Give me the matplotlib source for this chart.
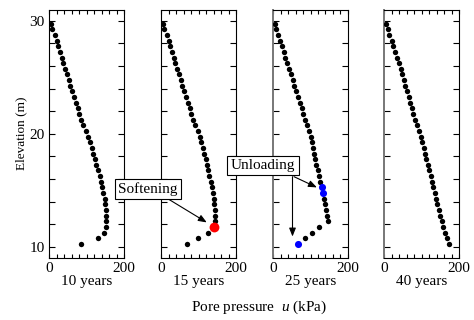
import numpy as np
import matplotlib.pyplot as plt
from matplotlib.ticker import MultipleLocator, FixedLocator, FixedFormatter

plt.rcParams['font.family'] = ['Liberation Serif', 'DejaVu Serif']
plt.rcParams['mathtext.fontset'] = 'custom'
plt.rcParams['mathtext.it'] = 'Liberation Serif:italic'

# elevation of the nodes (m)
elevation = [29.75, 29.25, 28.75, 28.25, 27.75, 27.25, 26.75, 26.25, 25.75, 25.25,
             24.75, 24.25, 23.75, 23.25, 22.75, 22.25, 21.75, 21.25, 20.75, 20.25,
             19.75, 19.25, 18.75, 18.25, 17.75, 17.25, 16.75, 16.25, 15.75, 15.25,
             14.75, 14.25, 13.75, 13.25, 12.75, 12.25, 11.75, 11.25, 10.75, 10.25]

# pore pressure (kPa) at each time
u_10 = [4, 9, 15, 20, 24, 29, 34, 38, 43, 48, 53, 57, 62, 67, 72, 77, 81, 86, 91, 98,
        104, 108, 114, 118, 123, 126, 131, 135, 139, 142, 145, 148, 149, 151, 152, 153, 152, 147, 131, 84]
u_15 = [4, 9, 15, 20, 24, 29, 34, 38, 43, 48, 53, 57, 62, 67, 72, 77, 81, 86, 91, 98,
        103, 107, 111, 115, 119, 122, 126, 129, 132, 135, 138, 140, 142, 143, 144, 144, 141, 124, 98, 70]
u_25 = [4, 9, 14, 19, 24, 29, 33, 38, 43, 47, 52, 57, 62, 66, 71, 76, 81, 86, 91, 97,
        101, 104, 107, 110, 113, 116, 119, 122, 126, 130, 134, 137, 140, 142, 144, 147, 123, 105, 84, 66]
u_40 = [4, 10, 14, 20, 25, 29, 35, 39, 44, 49, 52, 57, 60, 66, 69, 74, 78, 83, 88, 93,
        98, 102, 106, 109, 113, 116, 120, 124, 127, 131, 135, 139, 142, 146, 150, 154, 158, 163, 167, 173]

panel_labels = ['10 years', '15 years', '25 years', '40 years']
series = [u_10, u_15, u_25, u_40]

# highlighted nodes
softening_u = [141]
softening_z = [11.75]
unloading_u = [130, 134, 66]
unloading_z = [15.25, 14.75, 10.25]

W, H = 474, 320
fig = plt.figure(figsize=(W / 100, H / 100), dpi=100)

lefts_px = [49, 161, 273, 384]
axes = []
for i, (left, u, label) in enumerate(zip(lefts_px, series, panel_labels)):
    ax = fig.add_axes([left / W, 1 - 258 / H, 75 / W, 248.5 / H])
    ax.scatter(u, elevation, s=15, color='black', zorder=3, linewidths=0)
    ax.set_xlim(0, 200)
    ax.set_ylim(9, 31)
    ax.xaxis.set_major_locator(FixedLocator([0, 200]))
    ax.xaxis.set_minor_locator(MultipleLocator(20))
    ax.yaxis.set_major_locator(FixedLocator([10, 20, 30]))
    ax.yaxis.set_minor_locator(MultipleLocator(2))
    ax.tick_params(which='both', direction='in', top=True, right=True, labelsize=11,
                   width=0.8, pad=3)
    ax.tick_params(axis='y', which='both', length=4)
    ax.tick_params(axis='x', which='both', length=3)
    if i > 0:
        ax.set_yticklabels([])
    else:
        ax.set_ylabel('Elevation (m)', fontsize=9.5, labelpad=2)
    if i >= 2:
        ax.spines['left'].set_color('#777777')
        ax.spines['left'].set_linewidth(1.4)
    ax.set_xlabel(label, fontsize=11, labelpad=0)
    axes.append(ax)

ax2 = axes[1]
ax3 = axes[2]
ax2.scatter(softening_u, softening_z, s=50, color='red', zorder=4, linewidths=0)
ax3.scatter(unloading_u, unloading_z, s=26, color='blue', zorder=4, linewidths=0)

fig.text(259 / W, 1 - 307 / H, 'Pore pressure  $u$ (kPa)', fontsize=11,
         ha='center', va='center')

box = dict(boxstyle='square,pad=0.22', fc='white', ec='black', lw=0.8)
fig.text(148 / W, 1 - 189 / H, 'Softening', fontsize=11, ha='center', va='center',
         bbox=box, zorder=10)
fig.text(263 / W, 1 - 165.5 / H, 'Unloading', fontsize=11, ha='center', va='center',
         bbox=box, zorder=10)

arrow = dict(arrowstyle='-|>,head_length=0.5,head_width=0.2', color='black', lw=0.8,
             shrinkA=0, shrinkB=0)
ax2.annotate('', xy=(122, 12.15), xytext=(18, 14.25), arrowprops=arrow,
             annotation_clip=False)
ax3.annotate('', xy=(117, 15.25), xytext=(56, 16.2), arrowprops=arrow,
             annotation_clip=False)
ax3.annotate('', xy=(52, 10.9), xytext=(52, 16.2), arrowprops=arrow,
             annotation_clip=False)

fig.savefig('out.png', dpi=100)
